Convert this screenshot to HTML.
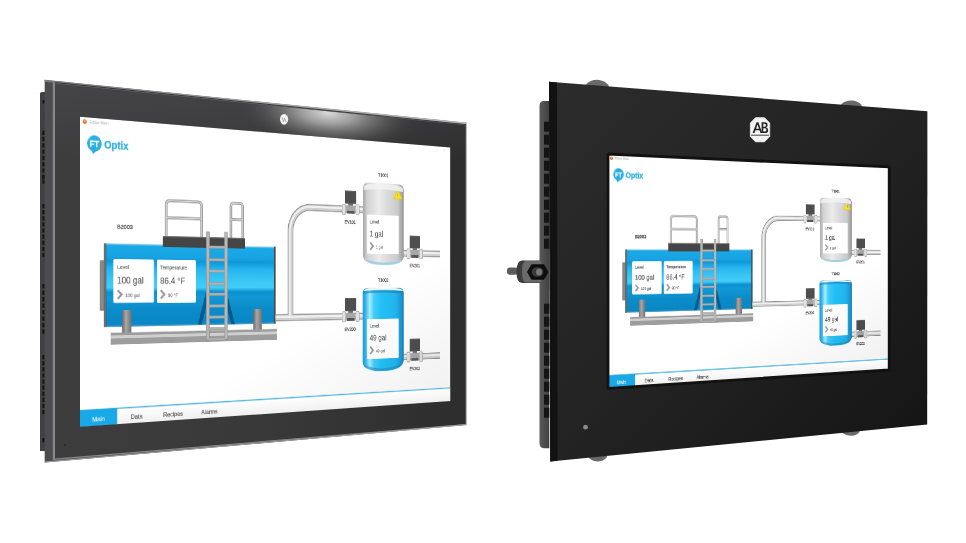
<!DOCTYPE html>
<html><head><meta charset="utf-8"><style>
html,body{margin:0;padding:0;background:#fff;}
body{width:966px;height:543px;position:relative;overflow:hidden;font-family:"Liberation Sans",sans-serif;}
.abs{position:absolute;left:0;top:0;}
.scr{position:absolute;left:0;top:0;transform-origin:0 0;}
.scr>svg{display:block;}
</style></head><body>
<svg class="abs" width="966" height="543" viewBox="0 0 966 543">
<defs>
 <linearGradient id="sideR" x1="0" y1="0" x2="1" y2="0"><stop offset="0" stop-color="#5a5a5a"/><stop offset="1" stop-color="#404040"/></linearGradient>
 <linearGradient id="bzTop" gradientUnits="userSpaceOnUse" x1="0" y1="84" x2="0" y2="160"><stop offset="0" stop-color="#4a4a50" stop-opacity="0.6"/><stop offset="1" stop-color="#4a4a50" stop-opacity="0"/></linearGradient>
 <linearGradient id="topLine" gradientUnits="userSpaceOnUse" x1="44" y1="0" x2="466" y2="0"><stop offset="0" stop-color="#7a7a7a"/><stop offset="0.5" stop-color="#a0a0a0"/><stop offset="1" stop-color="#b8b8b8"/></linearGradient>
 <linearGradient id="bzL" x1="0" y1="0" x2="1" y2="0">
  <stop offset="0" stop-color="#3d3d3d"/><stop offset="0.5" stop-color="#393939"/><stop offset="1" stop-color="#2d2d2d"/>
 </linearGradient>
 <radialGradient id="bzHi" gradientUnits="userSpaceOnUse" cx="328" cy="113" r="92" gradientTransform="translate(328 113) rotate(5.5) scale(1 0.4) translate(-328 -113)">
  <stop offset="0" stop-color="#e2e2e2" stop-opacity="0.95"/><stop offset="0.3" stop-color="#b4b4b4" stop-opacity="0.8"/><stop offset="0.65" stop-color="#7a7a7a" stop-opacity="0.4"/><stop offset="1" stop-color="#3a3a3a" stop-opacity="0"/>
 </radialGradient>
 <linearGradient id="bzR" x1="0" y1="0" x2="1" y2="1">
  <stop offset="0" stop-color="#2c2c2c"/><stop offset="0.5" stop-color="#232323"/><stop offset="1" stop-color="#141414"/>
 </linearGradient>
</defs>
<!-- LEFT PANEL -->
<path d="M40 93.5 Q40 92 42 92 L45 92 L45 451 L40 451 Z" fill="#414143"/>
<g fill="#141414">
 <rect x="42.6" y="100" width="2" height="3.5"/>
 <rect x="43.2" y="113" width="0.8" height="7" fill="#3a3a3a"/>
</g>
<g fill="#141414"><rect x="42.4" y="130.6" width="2.2" height="4.3"/><rect x="42.4" y="136.9" width="2.2" height="4.3"/><rect x="42.4" y="143.2" width="2.2" height="4.3"/><rect x="42.4" y="149.5" width="2.2" height="4.3"/><rect x="42.4" y="155.8" width="2.2" height="4.3"/><rect x="42.4" y="162.1" width="2.2" height="4.3"/><rect x="42.4" y="168.4" width="2.2" height="4.3"/><rect x="42.4" y="174.7" width="2.2" height="4.3"/><rect x="42.4" y="175.0" width="2.2" height="4.3"/><rect x="42.4" y="179.5" width="2.2" height="4.3"/><rect x="42.4" y="204.0" width="2.2" height="4.3"/><rect x="42.4" y="210.1" width="2.2" height="4.3"/><rect x="42.4" y="216.2" width="2.2" height="4.3"/><rect x="42.4" y="222.3" width="2.2" height="4.3"/><rect x="42.4" y="228.4" width="2.2" height="4.3"/><rect x="42.4" y="234.5" width="2.2" height="4.3"/><rect x="42.4" y="240.6" width="2.2" height="4.3"/><rect x="42.4" y="246.7" width="2.2" height="4.3"/><rect x="42.4" y="252.8" width="2.2" height="4.3"/><rect x="42.4" y="284.0" width="2.2" height="4.3"/><rect x="42.4" y="290.5" width="2.2" height="4.3"/><rect x="42.4" y="297.0" width="2.2" height="4.3"/><rect x="42.4" y="303.5" width="2.2" height="4.3"/><rect x="42.4" y="310.0" width="2.2" height="4.3"/><rect x="42.4" y="316.5" width="2.2" height="4.3"/><rect x="42.4" y="323.0" width="2.2" height="4.3"/><rect x="42.4" y="329.5" width="2.2" height="4.3"/><rect x="42.4" y="355.0" width="2.2" height="4.3"/><rect x="42.4" y="361.1" width="2.2" height="4.3"/><rect x="42.4" y="367.2" width="2.2" height="4.3"/><rect x="42.4" y="373.3" width="2.2" height="4.3"/><rect x="42.4" y="379.4" width="2.2" height="4.3"/><rect x="42.4" y="385.5" width="2.2" height="4.3"/><rect x="42.4" y="391.6" width="2.2" height="4.3"/><rect x="42.4" y="397.7" width="2.2" height="4.3"/><rect x="42.4" y="403.8" width="2.2" height="4.3"/><rect x="42.4" y="409.9" width="2.2" height="4.3"/><rect x="42.4" y="438.0" width="2.2" height="4.3"/></g>
<path d="M44.7 80 L466.4 122.7 L466.4 425 L44.7 462.6 Z" fill="#4c4c4e"/>
<path d="M52.8 81.9 L466 124.3 L466 424.6 L52.8 460.1 Z" fill="#88888a"/>

<!-- RIGHT PANEL -->
<path d="M539.5 106 Q539.5 101 544 101 L549.3 101 L549.3 448.2 L544 448.2 Q539.5 448.2 539.5 443 Z" fill="url(#sideR)"/>
<g fill="#141414"><rect x="544" y="121.7" width="5.3" height="10"/><rect x="544" y="134.7" width="5.3" height="10"/><rect x="544" y="147.7" width="5.3" height="10"/><rect x="544" y="160.7" width="5.3" height="10"/><rect x="544" y="173.7" width="5.3" height="10"/><rect x="544" y="186.7" width="5.3" height="10"/><rect x="544" y="199.7" width="5.3" height="10"/><rect x="544" y="212.7" width="5.3" height="10"/><rect x="544" y="225.7" width="5.3" height="10"/><rect x="544" y="238.7" width="5.3" height="10"/><rect x="544" y="303.7" width="5.3" height="10"/><rect x="544" y="316.7" width="5.3" height="10"/><rect x="544" y="329.7" width="5.3" height="10"/><rect x="544" y="342.7" width="5.3" height="10"/><rect x="544" y="355.7" width="5.3" height="10"/><rect x="544" y="368.7" width="5.3" height="10"/><rect x="544" y="381.7" width="5.3" height="10"/><rect x="544" y="394.7" width="5.3" height="10"/><rect x="544" y="407.7" width="5.3" height="10"/></g>
<!-- clips -->
<path d="M586 86 L586.5 84 Q590 80 597 79.8 Q604 80 608.5 85 L609 89 Z" fill="#6a6a6a"/>
<path d="M840.5 107 L841.5 104 Q845 100.8 851 100.6 Q858 100.8 861.5 105 L862 109 Z" fill="#6a6a6a"/>
<path d="M588.5 454 L589 458 Q593 461.5 598 461.5 Q604 461 607 457 L607.5 452 Z" fill="#6a6a6a"/>
<path d="M842 429 L842.5 433 Q846 435.8 851 435.8 Q857 435.5 859.5 432 L860 427 Z" fill="#6a6a6a"/>
<path d="M549 81.8 L927.4 111.3 L927.2 424.5 L550.2 461.5 Z" fill="url(#bzR)"/>
<path d="M549 81.8 L557 82.4 L557.5 460.8 L550.2 461.5 Z" fill="#121212"/>
<path d="M608.2 154.4 L889 167.1 L889 369.8 L608.2 388.1 Z" fill="none" stroke="#121212" stroke-width="3.2" stroke-linejoin="round"/>
<!-- AB logo -->
<path d="M755.5 117.7 L764.5 117.7 L769.7 123 L769.7 136.5 L764.5 141.8 L755.5 141.8 L750.4 136.5 L750.4 123 Z" fill="#f4f4f4" stroke="#f4f4f4" stroke-width="0.8" stroke-linejoin="round"/>
<path d="M751 135.2 L769 135.2" stroke="#444" stroke-width="1"/>
<path fill-rule="evenodd" fill="#262626" d="M752.6 133 L756.6 122.3 L758.4 122.3 L762.2 133 L760.4 133 L759.5 130.3 L755.5 130.3 L754.5 133 Z M756 128.8 L759 128.8 L757.5 124.4 Z"/>
<path fill-rule="evenodd" fill="#262626" d="M761.6 122.3 L765 122.3 Q767.6 122.3 767.6 125 Q767.6 126.9 766.2 127.4 Q768.2 128 768.2 130.2 Q768.2 133 765.2 133 L761.6 133 Z M763.3 123.8 L763.3 126.8 L764.8 126.8 Q765.9 126.8 765.9 125.3 Q765.9 123.8 764.8 123.8 Z M763.3 128.2 L763.3 131.5 L765 131.5 Q766.4 131.5 766.4 129.85 Q766.4 128.2 765 128.2 Z"/>
<circle cx="585.5" cy="427.2" r="2.4" fill="#8a8a8a"/>
<!-- knob -->
<rect x="507" y="267.6" width="11" height="7.2" rx="3" fill="#5c5c5c"/>
<path d="M522 260.4 L541 260.4 L541 283.1 L522 283.1 Q516.5 283.1 516.5 271.8 Q516.5 260.4 522 260.4 Z" fill="#3c3c3c"/>
<path d="M526 261 L541 261 L541 282.5 L526 282.5 Q522 282.5 522 271.8 Q522 261 526 261 Z" fill="#6a6a6a"/>
<path d="M527 272 L531.5 264.3 L544 264.3 L548.5 272 L544 279.8 L531.5 279.8 Z" fill="#0e0e0e"/>
<ellipse cx="537.5" cy="272" rx="6" ry="4.8" fill="#3a3a3a"/>
<ellipse cx="539" cy="272" rx="3" ry="3.5" fill="#777"/>
</svg>

<div class="scr" style="width:640.0px;height:400.0px;transform:matrix3d(0.73443222,0.09862352652,0,0.0003456532416,-9.929639703e-13,0.777,0,-9.926052837e-15,0,0,1,0,80,116.4,0,1)"><svg width="640.0" height="400.0" viewBox="0 0 1280 800" font-family="Liberation Sans, sans-serif">
<defs>
 <linearGradient id="LtankG" x1="0" y1="0" x2="0" y2="1">
  <stop offset="0" stop-color="#a8d6ea"/>
  <stop offset="0.025" stop-color="#1aa8e6"/>
  <stop offset="0.15" stop-color="#18a4e4"/>
  <stop offset="0.21" stop-color="#0e98d8"/>
  <stop offset="0.30" stop-color="#25b5ef"/>
  <stop offset="0.45" stop-color="#3cc8f5"/>
  <stop offset="0.53" stop-color="#40ccf7"/>
  <stop offset="0.585" stop-color="#0a90cf"/>
  <stop offset="0.65" stop-color="#1298d5"/>
  <stop offset="0.80" stop-color="#0b8cca"/>
  <stop offset="0.975" stop-color="#0a86c4"/>
  <stop offset="1" stop-color="#6aa8c8"/>
 </linearGradient>
 <linearGradient id="LtankEnd" x1="0" y1="0" x2="1" y2="0">
  <stop offset="0" stop-color="#3a3a3a"/><stop offset="0.5" stop-color="#8a8a8a"/><stop offset="1" stop-color="#4a4a4a"/>
 </linearGradient>
 <linearGradient id="LgreyTank" x1="0" y1="0" x2="1" y2="0">
  <stop offset="0" stop-color="#a8a8a8"/>
  <stop offset="0.1" stop-color="#d2d2d2"/>
  <stop offset="0.38" stop-color="#ebebeb"/>
  <stop offset="0.55" stop-color="#dedede"/>
  <stop offset="0.85" stop-color="#cacaca"/>
  <stop offset="1" stop-color="#969696"/>
 </linearGradient>
 <linearGradient id="LtopRim" x1="0" y1="0" x2="0" y2="1">
  <stop offset="0" stop-color="#ffffff" stop-opacity="0.9"/><stop offset="1" stop-color="#ffffff" stop-opacity="0"/>
 </linearGradient>
 <linearGradient id="LblueTank" x1="0" y1="0" x2="1" y2="0">
  <stop offset="0" stop-color="#1e96d2"/>
  <stop offset="0.07" stop-color="#34b8ee"/>
  <stop offset="0.17" stop-color="#a8f0ff"/>
  <stop offset="0.27" stop-color="#44ccfa"/>
  <stop offset="0.45" stop-color="#22c2f6"/>
  <stop offset="0.8" stop-color="#20b6ee"/>
  <stop offset="0.94" stop-color="#1c98d4"/>
  <stop offset="1" stop-color="#1a80b4"/>
 </linearGradient>
 <linearGradient id="LpipeH" x1="0" y1="0" x2="0" y2="1">
  <stop offset="0" stop-color="#8c8c8c"/><stop offset="0.35" stop-color="#e8e8e8"/><stop offset="0.6" stop-color="#d2d2d2"/><stop offset="1" stop-color="#8a8a8a"/>
 </linearGradient>
 <linearGradient id="LpipeV" x1="0" y1="0" x2="1" y2="0">
  <stop offset="0" stop-color="#8c8c8c"/><stop offset="0.35" stop-color="#e8e8e8"/><stop offset="0.6" stop-color="#d2d2d2"/><stop offset="1" stop-color="#8a8a8a"/>
 </linearGradient>
 <linearGradient id="LlegG" x1="0" y1="0" x2="1" y2="0">
  <stop offset="0" stop-color="#6a6a6a"/><stop offset="0.4" stop-color="#a8a8a8"/><stop offset="1" stop-color="#707070"/>
 </linearGradient>
 <linearGradient id="LvalveG" x1="0" y1="0" x2="1" y2="0">
  <stop offset="0" stop-color="#3a3a3a"/><stop offset="0.5" stop-color="#5a5a5a"/><stop offset="1" stop-color="#333"/>
 </linearGradient>
 <g id="Lvalve">
  <rect x="-21" y="-55" width="42" height="39" rx="2" fill="#4e4e4e"/>
  <rect x="-21" y="-55" width="42" height="4" fill="#5e5e5e"/>
  <rect x="-9" y="-17" width="18" height="8" fill="#6e6e6e"/>
  <rect x="-17" y="-11" width="34" height="24" rx="3" fill="#a8a8a8"/>
  <rect x="-14" y="5" width="28" height="8" fill="#555"/>
  <rect x="-32" y="-14" width="13" height="30" rx="4" fill="#e2e2e2" stroke="#9a9a9a" stroke-width="2"/>
  <rect x="19" y="-14" width="13" height="30" rx="4" fill="#e2e2e2" stroke="#9a9a9a" stroke-width="2"/>
 </g>
 <g id="Lchev"><path d="M0 -1 L11 10 L0 21" fill="none" stroke="#9a9a9a" stroke-width="6"/></g>
</defs>
<rect width="1280" height="800" fill="#ffffff"/>
<!-- title bar -->
<circle cx="13.5" cy="12.5" r="6" fill="#e5772e"/><circle cx="13.5" cy="11" r="2.5" fill="#f6c27a"/>
<text x="27" y="16" font-size="11" fill="#c4c4c4" stroke="#c4c4c4" stroke-width="0.32">Editor Main</text>
<text x="1190" y="17" font-size="12" fill="#e8e8e8">–</text>
<rect x="1218" y="8" width="9" height="9" fill="none" stroke="#ebebeb" stroke-width="1.2"/>
<text x="1250" y="17" font-size="13" fill="#e4e4e4">×</text>
<!-- FT Optix logo -->
<circle cx="41" cy="67" r="21" fill="#2aaee3"/>
<path d="M31 82 L37 95 L47 86 Z" fill="#2aaee3"/>
<path d="M24 60 A19 19 0 0 1 33 48" fill="none" stroke="#8fd6f3" stroke-width="2.5"/>
<text x="41" y="76" font-size="22" font-weight="bold" fill="#fff" text-anchor="middle" stroke="#fff" stroke-width="0.64">FT</text>
<text x="69" y="78" font-size="28" font-weight="bold" fill="#33b0e4" stroke="#33b0e4" stroke-width="0.64">Optix</text>

<!-- B2003 label -->
<text x="107" y="286" font-size="16" fill="#505050" stroke="#505050" stroke-width="0.64">B2003</text>
<!-- railings -->
<g fill="none">
<path d="M255 303 V218 Q255 207 266 207 H355 Q366 207 366 218 V303 M255 253 H366 M461 303 V216 Q461 206 471 206 H490 Q500 206 500 216 V303 M461 252 H500" stroke="#9a9a9a" stroke-width="8"/>
<path d="M255 303 V218 Q255 207 266 207 H355 Q366 207 366 218 V303 M255 253 H366 M461 303 V216 Q461 206 471 206 H490 Q500 206 500 216 V303 M461 252 H500" stroke="#dcdcdc" stroke-width="3"/>
</g>
<!-- tank B2003 -->
<rect x="58" y="371" width="11" height="129" fill="#8a8a8a" stroke="#555" stroke-width="1.5"/>
<rect x="68" y="325" width="544" height="219" fill="url(#LtankG)"/>
<rect x="68" y="325" width="7" height="219" fill="url(#LtankEnd)"/>
<rect x="606" y="325" width="6" height="219" fill="#4a4a4a"/>
<!-- a-frame under ladder -->
<path d="M380 453 L354 542 L366 542 L389 466 Z" fill="#075a8c"/>
<path d="M447 453 L474 542 L462 542 L438 466 Z" fill="#075a8c"/>
<!-- platform -->
<rect x="244" y="303" width="264" height="29" fill="#454545"/><rect x="244" y="303" width="264" height="3" fill="#5a5a5a"/>
<!-- cards -->
<rect x="96" y="366" width="121" height="115" rx="4" fill="#fff"/>
<rect x="226" y="366" width="122" height="116" rx="4" fill="#fff"/>
<text x="107" y="392" font-size="15" fill="#707070" stroke="#707070" stroke-width="0.48">Level</text>
<text x="107" y="431" font-size="24" fill="#5a5a5a" stroke="#5a5a5a" stroke-width="0.40">100 gal</text>
<use href="#Lchev" x="109" y="449"/>
<text x="131" y="466" font-size="13" fill="#808080" stroke="#808080" stroke-width="0.48">100 gal</text>
<text x="236" y="392" font-size="15" fill="#707070" stroke="#707070" stroke-width="0.48">Temperature</text>
<text x="236" y="431" font-size="24" fill="#5a5a5a" stroke="#5a5a5a" stroke-width="0.40">86.4 °F</text>
<use href="#Lchev" x="238" y="449"/>
<text x="260" y="466" font-size="13" fill="#808080" stroke="#808080" stroke-width="0.48">90 °F</text>
<!-- legs -->
<rect x="122" y="500" width="27" height="61" fill="url(#LlegG)"/>
<rect x="536" y="502" width="29" height="62" fill="url(#LlegG)"/>
<!-- base rail -->
<rect x="88" y="559" width="528" height="31" fill="#9d9d9d"/>
<rect x="88" y="566" width="528" height="8" fill="#cfcfcf"/>
<!-- ladder -->
<rect x="381" y="288" width="10" height="297" fill="#b8b8b8" stroke="#8a8a8a" stroke-width="1.5"/>
<rect x="440" y="288" width="10" height="297" fill="#b8b8b8" stroke="#8a8a8a" stroke-width="1.5"/>
<g fill="#b0b0b0" stroke="#8f8f8f" stroke-width="1"><rect x="389" y="326" width="53" height="7"/><rect x="389" y="361" width="53" height="7"/><rect x="389" y="392" width="53" height="7"/><rect x="389" y="427" width="53" height="7"/><rect x="389" y="456" width="53" height="7"/><rect x="389" y="488" width="53" height="7"/><rect x="389" y="519" width="53" height="7"/><rect x="389" y="551" width="53" height="7"/><rect x="389" y="580" width="53" height="7"/></g>
<!-- pipes -->
<path d="M930 209 H734 A70 70 0 0 0 664 279 V527 M612 527 H928 M1088 337 H1236 M1088 654 H1236" fill="none" stroke="#8a8a8a" stroke-width="20"/>
<path d="M930 209 H734 A70 70 0 0 0 664 279 V527 M612 527 H928 M1088 337 H1236 M1088 654 H1236" fill="none" stroke="#cfcfcf" stroke-width="15"/>
<path d="M930 207 H734 A72 72 0 0 0 662 279 V525 M612 525 H928 M1088 335 H1236 M1088 652 H1236" fill="none" stroke="#f0f0f0" stroke-width="6"/>
<!-- valves -->
<use href="#Lvalve" x="883" y="209"/>
<use href="#Lvalve" x="883" y="527"/>
<use href="#Lvalve" x="1133" y="337"/>
<use href="#Lvalve" x="1133" y="654"/>
<text x="860" y="252" font-size="14" fill="#505050" stroke="#505050" stroke-width="0.64">EV101</text>
<text x="860" y="570" font-size="14" fill="#505050" stroke="#505050" stroke-width="0.64">EV200</text>
<text x="1112" y="379" font-size="14" fill="#505050" stroke="#505050" stroke-width="0.64">EV201</text>
<text x="1112" y="696" font-size="14" fill="#505050" stroke="#505050" stroke-width="0.64">EV202</text>
<!-- T1001 -->
<text x="988" y="107" font-size="14" fill="#505050" stroke="#505050" stroke-width="0.64">T1001</text>
<path d="M930 145 Q930 127 950 127 H1068 Q1088 127 1088 145 V346 Q1088 374 1009 374 Q930 374 930 346 Z" fill="url(#LgreyTank)"/>
<path d="M932 140 Q940 128 1009 128 Q1078 128 1086 140 L1086 150 Q1009 140 932 150 Z" fill="#f4f4f4" opacity="0.8"/>
<path d="M936 356 Q1009 376 1082 356 Q1070 373 1009 373 Q948 373 936 356Z" fill="#9fd0e6"/>
<path d="M1065 147 L1081 171 L1049 171 Z" fill="#f5e31c" stroke="#eed400" stroke-width="3" stroke-linejoin="round"/>
<rect x="1064" y="155" width="2" height="9" fill="#777"/>
<rect x="945" y="223" width="123" height="117" rx="3" fill="#fff"/>
<text x="955" y="249" font-size="15" fill="#707070" stroke="#707070" stroke-width="0.48">Level</text>
<text x="955" y="288" font-size="24" fill="#5a5a5a" stroke="#5a5a5a" stroke-width="0.40">1 gal</text>
<use href="#Lchev" x="957" y="307"/>
<text x="979" y="324" font-size="13" fill="#808080" stroke="#808080" stroke-width="0.48">1 gal</text>
<!-- T1002 -->
<text x="988" y="424" font-size="14" fill="#505050" stroke="#505050" stroke-width="0.64">T1002</text>
<path d="M928 458 Q928 443 948 443 H1068 Q1088 443 1088 458 V662 Q1088 694 1008 694 Q928 694 928 662 Z" fill="url(#LblueTank)"/>
<path d="M933 449 Q940 443 1008 443 Q1076 443 1083 449 L1086 452 Q1008 446 930 452 Z" fill="#eefaff"/>
<path d="M929 452 Q1008 446 1087 452 L1087 460 Q1008 454 929 460 Z" fill="#1f7fb5" opacity="0.6"/>
<path d="M932 672 Q1008 700 1084 672 Q1072 693 1008 693 Q944 693 932 672Z" fill="#1a7fb5" opacity="0.5"/>
<rect x="945" y="536" width="123" height="120" rx="3" fill="#fff"/>
<text x="955" y="562" font-size="15" fill="#707070" stroke="#707070" stroke-width="0.48">Level</text>
<text x="955" y="601" font-size="24" fill="#5a5a5a" stroke="#5a5a5a" stroke-width="0.40">49 gal</text>
<use href="#Lchev" x="957" y="620"/>
<text x="979" y="637" font-size="13" fill="#808080" stroke="#808080" stroke-width="0.48">49 gal</text>
<defs><linearGradient id="Lshade" x1="0.3" y1="0" x2="1" y2="1"><stop offset="0.6" stop-color="#000" stop-opacity="0"/><stop offset="1" stop-color="#000" stop-opacity="0.06"/></linearGradient></defs>
<rect width="1280" height="800" fill="url(#Lshade)"/>
<!-- tab bar -->
<defs><linearGradient id="LtabG" x1="0" y1="0" x2="0" y2="1"><stop offset="0" stop-color="#ffffff"/><stop offset="1" stop-color="#f0f0f0"/></linearGradient></defs>
<rect x="0" y="758" width="1280" height="42" fill="url(#LtabG)"/>
<rect x="0" y="755.5" width="1280" height="3.5" fill="#4fb4e2"/>
<rect x="0" y="757" width="107" height="43" fill="#1aa9e8"/>
<text x="53" y="788" font-size="17" fill="#d8f1fc" text-anchor="middle" stroke="#d8f1fc" stroke-width="0.48">Main</text>
<text x="165" y="788" font-size="17" fill="#606060" text-anchor="middle" stroke="#606060" stroke-width="0.48">Data</text>
<text x="276" y="788" font-size="17" fill="#606060" text-anchor="middle" stroke="#606060" stroke-width="0.48">Recipes</text>
<text x="391" y="788" font-size="17" fill="#606060" text-anchor="middle" stroke="#606060" stroke-width="0.48">Alarms</text>
</svg></div>
<div class="scr" style="width:480.0px;height:300.0px;transform:matrix3d(0.8682490543,0.07969895987,0,0.0003186153592,-3.858654237e-10,0.7789999998,0,-5.047898376e-13,0,0,1,0,608.2,154.4,0,1)"><svg width="480.0" height="300.0" viewBox="0 0 1280 800" font-family="Liberation Sans, sans-serif">
<defs>
 <linearGradient id="RtankG" x1="0" y1="0" x2="0" y2="1">
  <stop offset="0" stop-color="#a8d6ea"/>
  <stop offset="0.025" stop-color="#1aa8e6"/>
  <stop offset="0.15" stop-color="#18a4e4"/>
  <stop offset="0.21" stop-color="#0e98d8"/>
  <stop offset="0.30" stop-color="#25b5ef"/>
  <stop offset="0.45" stop-color="#3cc8f5"/>
  <stop offset="0.53" stop-color="#40ccf7"/>
  <stop offset="0.585" stop-color="#0a90cf"/>
  <stop offset="0.65" stop-color="#1298d5"/>
  <stop offset="0.80" stop-color="#0b8cca"/>
  <stop offset="0.975" stop-color="#0a86c4"/>
  <stop offset="1" stop-color="#6aa8c8"/>
 </linearGradient>
 <linearGradient id="RtankEnd" x1="0" y1="0" x2="1" y2="0">
  <stop offset="0" stop-color="#3a3a3a"/><stop offset="0.5" stop-color="#8a8a8a"/><stop offset="1" stop-color="#4a4a4a"/>
 </linearGradient>
 <linearGradient id="RgreyTank" x1="0" y1="0" x2="1" y2="0">
  <stop offset="0" stop-color="#a8a8a8"/>
  <stop offset="0.1" stop-color="#d2d2d2"/>
  <stop offset="0.38" stop-color="#ebebeb"/>
  <stop offset="0.55" stop-color="#dedede"/>
  <stop offset="0.85" stop-color="#cacaca"/>
  <stop offset="1" stop-color="#969696"/>
 </linearGradient>
 <linearGradient id="RtopRim" x1="0" y1="0" x2="0" y2="1">
  <stop offset="0" stop-color="#ffffff" stop-opacity="0.9"/><stop offset="1" stop-color="#ffffff" stop-opacity="0"/>
 </linearGradient>
 <linearGradient id="RblueTank" x1="0" y1="0" x2="1" y2="0">
  <stop offset="0" stop-color="#1e96d2"/>
  <stop offset="0.07" stop-color="#34b8ee"/>
  <stop offset="0.17" stop-color="#a8f0ff"/>
  <stop offset="0.27" stop-color="#44ccfa"/>
  <stop offset="0.45" stop-color="#22c2f6"/>
  <stop offset="0.8" stop-color="#20b6ee"/>
  <stop offset="0.94" stop-color="#1c98d4"/>
  <stop offset="1" stop-color="#1a80b4"/>
 </linearGradient>
 <linearGradient id="RpipeH" x1="0" y1="0" x2="0" y2="1">
  <stop offset="0" stop-color="#8c8c8c"/><stop offset="0.35" stop-color="#e8e8e8"/><stop offset="0.6" stop-color="#d2d2d2"/><stop offset="1" stop-color="#8a8a8a"/>
 </linearGradient>
 <linearGradient id="RpipeV" x1="0" y1="0" x2="1" y2="0">
  <stop offset="0" stop-color="#8c8c8c"/><stop offset="0.35" stop-color="#e8e8e8"/><stop offset="0.6" stop-color="#d2d2d2"/><stop offset="1" stop-color="#8a8a8a"/>
 </linearGradient>
 <linearGradient id="RlegG" x1="0" y1="0" x2="1" y2="0">
  <stop offset="0" stop-color="#6a6a6a"/><stop offset="0.4" stop-color="#a8a8a8"/><stop offset="1" stop-color="#707070"/>
 </linearGradient>
 <linearGradient id="RvalveG" x1="0" y1="0" x2="1" y2="0">
  <stop offset="0" stop-color="#3a3a3a"/><stop offset="0.5" stop-color="#5a5a5a"/><stop offset="1" stop-color="#333"/>
 </linearGradient>
 <g id="Rvalve">
  <rect x="-21" y="-55" width="42" height="39" rx="2" fill="#4e4e4e"/>
  <rect x="-21" y="-55" width="42" height="4" fill="#5e5e5e"/>
  <rect x="-9" y="-17" width="18" height="8" fill="#6e6e6e"/>
  <rect x="-17" y="-11" width="34" height="24" rx="3" fill="#a8a8a8"/>
  <rect x="-14" y="5" width="28" height="8" fill="#555"/>
  <rect x="-32" y="-14" width="13" height="30" rx="4" fill="#e2e2e2" stroke="#9a9a9a" stroke-width="2"/>
  <rect x="19" y="-14" width="13" height="30" rx="4" fill="#e2e2e2" stroke="#9a9a9a" stroke-width="2"/>
 </g>
 <g id="Rchev"><path d="M0 -1 L11 10 L0 21" fill="none" stroke="#9a9a9a" stroke-width="6"/></g>
</defs>
<rect width="1280" height="800" fill="#ffffff"/>
<!-- title bar -->
<circle cx="13.5" cy="12.5" r="6" fill="#e5772e"/><circle cx="13.5" cy="11" r="2.5" fill="#f6c27a"/>
<text x="27" y="16" font-size="11" fill="#c4c4c4" stroke="#c4c4c4" stroke-width="0.52">Editor Main</text>
<text x="1190" y="17" font-size="12" fill="#e8e8e8">–</text>
<rect x="1218" y="8" width="9" height="9" fill="none" stroke="#ebebeb" stroke-width="1.2"/>
<text x="1250" y="17" font-size="13" fill="#e4e4e4">×</text>
<!-- FT Optix logo -->
<circle cx="41" cy="67" r="21" fill="#2aaee3"/>
<path d="M31 82 L37 95 L47 86 Z" fill="#2aaee3"/>
<path d="M24 60 A19 19 0 0 1 33 48" fill="none" stroke="#8fd6f3" stroke-width="2.5"/>
<text x="41" y="76" font-size="22" font-weight="bold" fill="#fff" text-anchor="middle" stroke="#fff" stroke-width="1.04">FT</text>
<text x="69" y="78" font-size="28" font-weight="bold" fill="#33b0e4" stroke="#33b0e4" stroke-width="1.04">Optix</text>

<!-- B2003 label -->
<text x="107" y="286" font-size="16" fill="#505050" stroke="#505050" stroke-width="1.04">B2003</text>
<!-- railings -->
<g fill="none">
<path d="M255 303 V218 Q255 207 266 207 H355 Q366 207 366 218 V303 M255 253 H366 M461 303 V216 Q461 206 471 206 H490 Q500 206 500 216 V303 M461 252 H500" stroke="#9a9a9a" stroke-width="8"/>
<path d="M255 303 V218 Q255 207 266 207 H355 Q366 207 366 218 V303 M255 253 H366 M461 303 V216 Q461 206 471 206 H490 Q500 206 500 216 V303 M461 252 H500" stroke="#dcdcdc" stroke-width="3"/>
</g>
<!-- tank B2003 -->
<rect x="58" y="371" width="11" height="129" fill="#8a8a8a" stroke="#555" stroke-width="1.5"/>
<rect x="68" y="325" width="544" height="219" fill="url(#RtankG)"/>
<rect x="68" y="325" width="7" height="219" fill="url(#RtankEnd)"/>
<rect x="606" y="325" width="6" height="219" fill="#4a4a4a"/>
<!-- a-frame under ladder -->
<path d="M380 453 L354 542 L366 542 L389 466 Z" fill="#075a8c"/>
<path d="M447 453 L474 542 L462 542 L438 466 Z" fill="#075a8c"/>
<!-- platform -->
<rect x="244" y="303" width="264" height="29" fill="#454545"/><rect x="244" y="303" width="264" height="3" fill="#5a5a5a"/>
<!-- cards -->
<rect x="96" y="366" width="121" height="115" rx="4" fill="#fff"/>
<rect x="226" y="366" width="122" height="116" rx="4" fill="#fff"/>
<text x="107" y="392" font-size="15" fill="#707070" stroke="#707070" stroke-width="0.78">Level</text>
<text x="107" y="431" font-size="24" fill="#5a5a5a" stroke="#5a5a5a" stroke-width="0.65">100 gal</text>
<use href="#Rchev" x="109" y="449"/>
<text x="131" y="466" font-size="13" fill="#808080" stroke="#808080" stroke-width="0.78">100 gal</text>
<text x="236" y="392" font-size="15" fill="#707070" stroke="#707070" stroke-width="0.78">Temperature</text>
<text x="236" y="431" font-size="24" fill="#5a5a5a" stroke="#5a5a5a" stroke-width="0.65">86.4 °F</text>
<use href="#Rchev" x="238" y="449"/>
<text x="260" y="466" font-size="13" fill="#808080" stroke="#808080" stroke-width="0.78">90 °F</text>
<!-- legs -->
<rect x="122" y="500" width="27" height="61" fill="url(#RlegG)"/>
<rect x="536" y="502" width="29" height="62" fill="url(#RlegG)"/>
<!-- base rail -->
<rect x="88" y="559" width="528" height="31" fill="#9d9d9d"/>
<rect x="88" y="566" width="528" height="8" fill="#cfcfcf"/>
<!-- ladder -->
<rect x="381" y="288" width="10" height="297" fill="#b8b8b8" stroke="#8a8a8a" stroke-width="1.5"/>
<rect x="440" y="288" width="10" height="297" fill="#b8b8b8" stroke="#8a8a8a" stroke-width="1.5"/>
<g fill="#b0b0b0" stroke="#8f8f8f" stroke-width="1"><rect x="389" y="326" width="53" height="7"/><rect x="389" y="361" width="53" height="7"/><rect x="389" y="392" width="53" height="7"/><rect x="389" y="427" width="53" height="7"/><rect x="389" y="456" width="53" height="7"/><rect x="389" y="488" width="53" height="7"/><rect x="389" y="519" width="53" height="7"/><rect x="389" y="551" width="53" height="7"/><rect x="389" y="580" width="53" height="7"/></g>
<!-- pipes -->
<path d="M930 209 H734 A70 70 0 0 0 664 279 V527 M612 527 H928 M1088 337 H1236 M1088 654 H1236" fill="none" stroke="#8a8a8a" stroke-width="20"/>
<path d="M930 209 H734 A70 70 0 0 0 664 279 V527 M612 527 H928 M1088 337 H1236 M1088 654 H1236" fill="none" stroke="#cfcfcf" stroke-width="15"/>
<path d="M930 207 H734 A72 72 0 0 0 662 279 V525 M612 525 H928 M1088 335 H1236 M1088 652 H1236" fill="none" stroke="#f0f0f0" stroke-width="6"/>
<!-- valves -->
<use href="#Rvalve" x="883" y="209"/>
<use href="#Rvalve" x="883" y="527"/>
<use href="#Rvalve" x="1133" y="337"/>
<use href="#Rvalve" x="1133" y="654"/>
<text x="860" y="252" font-size="14" fill="#505050" stroke="#505050" stroke-width="1.04">EV101</text>
<text x="860" y="570" font-size="14" fill="#505050" stroke="#505050" stroke-width="1.04">EV200</text>
<text x="1112" y="379" font-size="14" fill="#505050" stroke="#505050" stroke-width="1.04">EV201</text>
<text x="1112" y="696" font-size="14" fill="#505050" stroke="#505050" stroke-width="1.04">EV202</text>
<!-- T1001 -->
<text x="988" y="107" font-size="14" fill="#505050" stroke="#505050" stroke-width="1.04">T1001</text>
<path d="M930 145 Q930 127 950 127 H1068 Q1088 127 1088 145 V346 Q1088 374 1009 374 Q930 374 930 346 Z" fill="url(#RgreyTank)"/>
<path d="M932 140 Q940 128 1009 128 Q1078 128 1086 140 L1086 150 Q1009 140 932 150 Z" fill="#f4f4f4" opacity="0.8"/>
<path d="M936 356 Q1009 376 1082 356 Q1070 373 1009 373 Q948 373 936 356Z" fill="#9fd0e6"/>
<path d="M1065 147 L1081 171 L1049 171 Z" fill="#f5e31c" stroke="#eed400" stroke-width="3" stroke-linejoin="round"/>
<rect x="1064" y="155" width="2" height="9" fill="#777"/>
<rect x="945" y="223" width="123" height="117" rx="3" fill="#fff"/>
<text x="955" y="249" font-size="15" fill="#707070" stroke="#707070" stroke-width="0.78">Level</text>
<text x="955" y="288" font-size="24" fill="#5a5a5a" stroke="#5a5a5a" stroke-width="0.65">1 gal</text>
<use href="#Rchev" x="957" y="307"/>
<text x="979" y="324" font-size="13" fill="#808080" stroke="#808080" stroke-width="0.78">1 gal</text>
<!-- T1002 -->
<text x="988" y="424" font-size="14" fill="#505050" stroke="#505050" stroke-width="1.04">T1002</text>
<path d="M928 458 Q928 443 948 443 H1068 Q1088 443 1088 458 V662 Q1088 694 1008 694 Q928 694 928 662 Z" fill="url(#RblueTank)"/>
<path d="M933 449 Q940 443 1008 443 Q1076 443 1083 449 L1086 452 Q1008 446 930 452 Z" fill="#eefaff"/>
<path d="M929 452 Q1008 446 1087 452 L1087 460 Q1008 454 929 460 Z" fill="#1f7fb5" opacity="0.6"/>
<path d="M932 672 Q1008 700 1084 672 Q1072 693 1008 693 Q944 693 932 672Z" fill="#1a7fb5" opacity="0.5"/>
<rect x="945" y="536" width="123" height="120" rx="3" fill="#fff"/>
<text x="955" y="562" font-size="15" fill="#707070" stroke="#707070" stroke-width="0.78">Level</text>
<text x="955" y="601" font-size="24" fill="#5a5a5a" stroke="#5a5a5a" stroke-width="0.65">49 gal</text>
<use href="#Rchev" x="957" y="620"/>
<text x="979" y="637" font-size="13" fill="#808080" stroke="#808080" stroke-width="0.78">49 gal</text>
<defs><linearGradient id="Rshade" x1="0.3" y1="0" x2="1" y2="1"><stop offset="0.6" stop-color="#000" stop-opacity="0"/><stop offset="1" stop-color="#000" stop-opacity="0.06"/></linearGradient></defs>
<rect width="1280" height="800" fill="url(#Rshade)"/>
<!-- tab bar -->
<defs><linearGradient id="RtabG" x1="0" y1="0" x2="0" y2="1"><stop offset="0" stop-color="#ffffff"/><stop offset="1" stop-color="#f0f0f0"/></linearGradient></defs>
<rect x="0" y="758" width="1280" height="42" fill="url(#RtabG)"/>
<rect x="0" y="755.5" width="1280" height="3.5" fill="#4fb4e2"/>
<rect x="0" y="757" width="107" height="43" fill="#1aa9e8"/>
<text x="53" y="788" font-size="17" fill="#d8f1fc" text-anchor="middle" stroke="#d8f1fc" stroke-width="0.78">Main</text>
<text x="165" y="788" font-size="17" fill="#606060" text-anchor="middle" stroke="#606060" stroke-width="0.78">Data</text>
<text x="276" y="788" font-size="17" fill="#606060" text-anchor="middle" stroke="#606060" stroke-width="0.78">Recipes</text>
<text x="391" y="788" font-size="17" fill="#606060" text-anchor="middle" stroke="#606060" stroke-width="0.78">Alarms</text>
</svg></div>
<svg class="abs" width="966" height="543" viewBox="0 0 966 543" style="pointer-events:none">
<g fill-rule="evenodd">
<path d="M55 83.4 L465.6 125.3 L465.6 424 L55 458.6 Z M80 116.85 L450.4 147.45 L450.4 401.05 L80 426.75 Z" fill="url(#bzL)"/>
<path d="M55 83.4 L465.6 125.3 L465.6 424 L55 458.6 Z M80 116.85 L450.4 147.45 L450.4 401.05 L80 426.75 Z" fill="url(#bzTop)"/>
<path d="M55 83.4 L465.6 125.3 L465.6 424 L55 458.6 Z M80 116.85 L450.4 147.45 L450.4 401.05 L80 426.75 Z" fill="url(#bzHi)"/>
</g>
<path d="M44.7 80.8 L466.4 123.5" stroke="url(#topLine)" stroke-width="2" fill="none"/><path d="M55 82.6 L466 124.6" stroke="#222" stroke-width="0.8" fill="none"/>
<path d="M44.7 462 L466.4 424.6" stroke="#a0a0a0" stroke-width="1" fill="none"/>
<ellipse cx="284.1" cy="119.3" rx="4.1" ry="5.4" fill="#f2f2f2"/>
<path d="M282 117 L283.5 122 L284.5 118 L286 122" stroke="#999" stroke-width="0.7" fill="none"/>
<circle cx="65" cy="445" r="0.8" fill="#222"/>
<path d="M608.2 154.4 L889 167.1 L889 369.8 L608.2 388.1 Z" fill="none" stroke="#121212" stroke-width="2.4" stroke-linejoin="round"/>
</svg>

</body></html>
